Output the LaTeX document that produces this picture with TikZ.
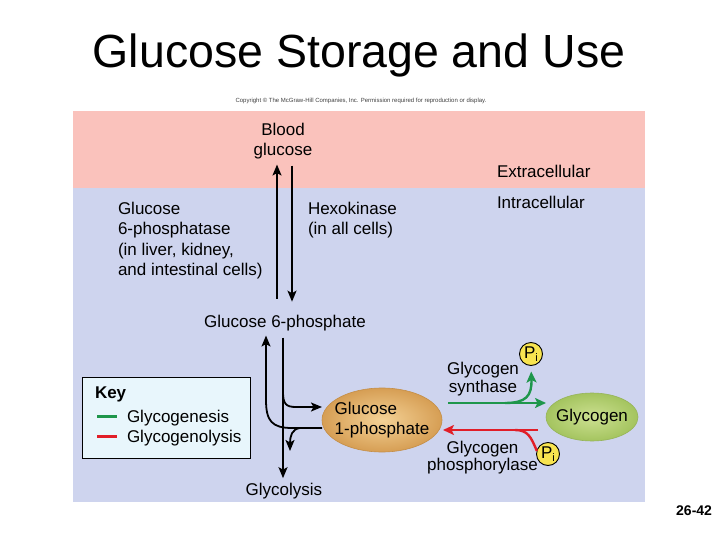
\documentclass[tikz,border=0pt]{standalone}
\usepackage{fontspec}
\setmainfont{Liberation Sans}
\usetikzlibrary{arrows.meta,shapes.geometric}
\definecolor{pinkbg}{RGB}{250,194,188}
\definecolor{bluebg}{RGB}{206,212,238}
\definecolor{keybg}{RGB}{232,246,252}
\definecolor{gline}{RGB}{30,150,75}
\definecolor{rline}{RGB}{225,30,40}
\definecolor{tanin}{RGB}{244,210,150}
\definecolor{tanout}{RGB}{214,158,84}
\definecolor{tanedge}{RGB}{196,142,72}
\definecolor{grin}{RGB}{204,224,145}
\definecolor{grout}{RGB}{164,196,95}
\definecolor{gredge}{RGB}{150,180,90}
\definecolor{piyellow}{RGB}{248,228,80}
\begin{document}
\begin{tikzpicture}[x=1pt,y=-1pt,
  every node/.style={inner sep=0pt, outer sep=0pt},
  txt/.style={font=\fontsize{17}{20.5}\selectfont},
  txtt/.style={font=\fontsize{17}{17.5}\selectfont},
  arr/.style={line width=1.8pt, -{Stealth[length=11pt,width=9pt,inset=2.5pt]}},
  garr/.style={line width=2.4pt, draw=gline, -{Stealth[length=11pt,width=10pt,inset=2.5pt]}},
  rarr/.style={line width=2.4pt, draw=rline, -{Stealth[length=11pt,width=10pt,inset=2.5pt]}},
  pibox/.style={circle, draw=black, line width=0.9pt, fill=piyellow, minimum size=23pt, font=\fontsize{17}{17}\selectfont}
]
\useasboundingbox (0,0) rectangle (720,540);
\fill[white] (0,0) rectangle (720,540);
\fill[pinkbg] (73,111) rectangle (645,188);
\fill[bluebg] (73,188) rectangle (645,502);

% column / row coordinates
\coordinate (cUp) at (277,0);
\coordinate (cDn) at (292,0);
\coordinate (cL) at (266,0);
\coordinate (cM) at (283,0);
\coordinate (rG) at (0,403);
\coordinate (rR) at (0,430);

\node[font=\fontsize{46.5}{50}\selectfont, anchor=base] (title) at (359,68) {Glucose Storage and Use};
\node[font=\fontsize{6}{7}\selectfont, text=black!75, anchor=base] (copy) at (361,103) {Copyright © The McGraw-Hill Companies, Inc. Permission required for reproduction or display.};

% multi-line nodes: base anchor = last line's baseline
\node[txt, align=center, anchor=base] (blood) at (283,156) {Blood\\glucose};
\node[txt, anchor=base west] (extra) at (497,178) {Extracellular};
\node[txt, anchor=base west] (intra) at (497,208) {Intracellular};
\node[txt, align=left, anchor=base west] (g6pase) at (118,275.5) {Glucose\\6-phosphatase\\(in liver, kidney,\\and intestinal cells)};
\node[txt, align=left, anchor=base west] (hexo) at (308,234.5) {Hexokinase\\(in all cells)};
\node[txt, anchor=base] (g6p) at (285,327) {Glucose 6-phosphate};
\node[txt, anchor=base] (glycolysis) at (284,495) {Glycolysis};

\node[ellipse, inner xsep=-5pt, minimum width=120pt, minimum height=64pt, inner color=tanin, outer color=tanout, draw=tanedge, line width=0.6pt, txt, align=left] (g1p) at (382,420) {Glucose\\1-phosphate};
\node[ellipse, inner xsep=-3.5pt, minimum width=92pt, minimum height=48pt, inner color=grin, outer color=grout, draw=gredge, line width=0.6pt, txt] (glycogen) at (592,417) {Glycogen};

\node[txtt, align=center, anchor=base] (gsyn) at (483,392) {Glycogen\\synthase};
\node[txtt, align=center, anchor=base] (gphos) at (482.5,470.5) {Glycogen\\phosphorylase};

\node[pibox] (pi1) at (531,354) {P\raisebox{-3pt}{\fontsize{11}{11}\selectfont i}};
\node[pibox] (pi2) at (548,454) {P\raisebox{-3pt}{\fontsize{11}{11}\selectfont i}};

% Key
\node[draw=black, fill=keybg, line width=0.8pt, minimum width=168pt, minimum height=81pt, anchor=north west] (keybox) at (82,377) {};
\node[txt, anchor=base west] (keyt) at (95,398) {\textbf{Key}};
\node[txt, anchor=base west] (k1) at (127,422) {Glycogenesis};
\node[txt, anchor=base west] (k2) at (127,442) {Glycogenolysis};
\draw[gline, line width=3.5pt] ([xshift=-30pt,yshift=5.5pt]k1.base west) -- ([xshift=-10pt,yshift=5.5pt]k1.base west);
\draw[rline, line width=3.5pt] ([xshift=-30pt,yshift=5.5pt]k2.base west) -- ([xshift=-10pt,yshift=5.5pt]k2.base west);

% upper arrows
\draw[arr, shorten <=16pt, shorten >=5pt] (g6p.north -| cUp) -- (blood.south -| cUp);
\draw[arr, shorten <=6pt, shorten >=13pt] (blood.south -| cDn) -- (g6p.north -| cDn);

% lower arrows
\draw[arr, shorten <=7pt, shorten >=4.5pt] (g6p.south -| cM) -- (glycolysis.north -| cM);
\draw[arr, shorten >=5pt] ([yshift=-8pt]g1p.west) -- (292,428) .. controls (272,428) and (266,421) .. (266,400) -- (g6p.south -| cL);
\draw[arr] (283,392) .. controls (283,404) and (286,407) .. (296,407) -- ([yshift=13pt]g1p.west);
\draw[arr] (300,428) .. controls (292,429) and (290,436) .. (290,451);

% green / red
\draw[garr, shorten <=6pt] (g1p.east |- rG) -- (glycogen.west |- rG);
\draw[garr, shorten >=6pt] (505,403) .. controls (526,403) and (532,396) .. (pi1.south);
\draw[rarr, shorten <=8pt, shorten >=1pt] (glycogen.west |- rR) -- (g1p.east |- rR);
\draw[rline, line width=2.4pt] (pi2.165) .. controls (531,437) and (528,430) .. (515,430);

\node[font=\fontsize{14}{14}\selectfont\bfseries, anchor=base east] (pg) at (712,515) {26-42};
\end{tikzpicture}
\end{document}
